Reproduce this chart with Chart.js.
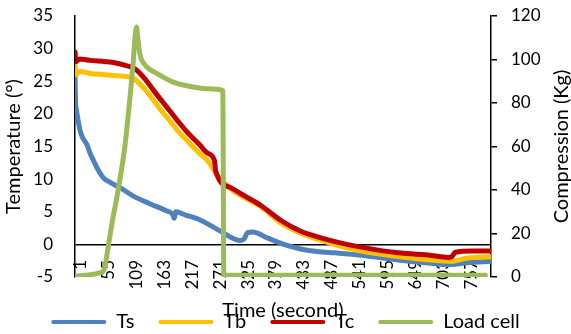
<!DOCTYPE html>
<html><head><meta charset="utf-8">
<script src="https://cdn.jsdelivr.net/npm/chart.js@4.4.1/dist/chart.umd.min.js"></script>
<style>html,body{margin:0;padding:0;background:#fff}canvas{display:block}</style>
</head><body>
<canvas id="c" width="571" height="334" style="width:571px;height:334px"></canvas>
<script>
// ---- data ----
const xTickLabels = [1,55,109,163,217,271,325,379,433,487,541,595,649,703,757];
const xMin = 1, xMax = 806;

const tsTime  = [1,2,4,7,11,16,24,30,37,45,56,69,88,114,147,179,190,193,196,215,244,283,321,328,335,345,373,405,438,470,505,560,626,690,729,760,806];
const tsValues= [26,22,20.5,19,17.4,16.3,15.3,14,12.8,11.5,10.2,9.5,8.7,7.4,6.2,5.1,4.6,4.0,5.0,4.5,3.7,2.0,0.6,0.8,1.8,1.9,1.0,0.0,-0.7,-1.1,-1.3,-1.7,-2.4,-2.9,-3.1,-2.8,-2.6];

const tbTime  = [1,3,10,30,60,90,114,121,135,153,170,185,200,218,244,257,273,302,360,399,438,477,516,560,626,690,729,760,806];
const tbValues= [27.5,26.0,26.5,26.2,26.0,25.8,25.5,25.0,23.9,22.1,20.3,18.9,17.4,15.9,13.8,12.9,11.0,8.5,5.8,3.3,1.7,0.6,-0.3,-1.1,-1.85,-2.4,-2.6,-2.1,-1.9];

const tcTime  = [1,3,10,30,60,80,100,115,127,140,153,170,185,200,218,244,257,271,273,302,330,360,399,438,477,516,560,626,690,723,730,737,770,806];
const tcValues= [29.5,28.0,28.4,28.2,28.0,27.8,27.4,27.0,26.2,25.0,23.6,21.9,20.4,18.9,17.2,15.1,14.0,12.8,11.3,8.7,7.4,6.0,3.7,2.0,1.0,0.2,-0.5,-1.3,-1.7,-2.0,-1.9,-1.2,-1.0,-1.0];

const lcTime  = [1,30,50,55,58,62,66,70,75,80,88,98,108,114,117,120,122,125,128,135,140,160,191,224,260,287,289,795];
const lcValues= [0.5,1,2,2.5,4,9,15,21,28,34,45,61,84,100,110,115,111,105,101,98,96.5,93.5,89.6,87.6,86.5,85.7,0.8,0.8];

const seriesNames = ['Ts','Tb','Tc','Load cell'];
const seriesColors = ['#4F81BD','#FFC000','#C00000','#9BBB59'];
const xTitle = 'Time (second)';
const yLeftTitle = 'Temperature (°)';
const yRightTitle = 'Compression (Kg)';

const pts = (t, v) => t.map((x, i) => ({x, y: v[i]}));

const extraTitles = {
  id: 'extraTitles',
  afterDraw(chart) {
    const {ctx, chartArea} = chart;
    ctx.save();
    ctx.fillStyle = '#000';
    ctx.font = '20px Lato';
    ctx.textAlign = 'center';
    ctx.textBaseline = 'middle';
    ctx.fillText(xTitle, (chartArea.left + chartArea.right) / 2, chartArea.bottom + 34);
    ctx.translate(chartArea.right + 71, (chartArea.top + chartArea.bottom) / 2);
    ctx.rotate(-Math.PI / 2);
    ctx.fillText(yRightTitle, 0, 0);
    ctx.restore();
  }
};

function draw() {
  Chart.defaults.font.family = 'Lato';
  Chart.defaults.font.size = 17;
  Chart.defaults.color = '#000';
  const mk = (i, t, v, axis, order) => ({
    label: seriesNames[i], data: pts(t, v), yAxisID: axis, order,
    borderColor: seriesColors[i], backgroundColor: seriesColors[i],
    borderWidth: 5, pointRadius: 0, cubicInterpolationMode: 'monotone',
    borderCapStyle: 'round', borderJoinStyle: 'round'
  });
  new Chart(document.getElementById('c'), {
    type: 'line',
    data: { datasets: [
      mk(0, tsTime, tsValues, 'y', 4),
      mk(1, tbTime, tbValues, 'y', 3),
      mk(2, tcTime, tcValues, 'y', 2),
      mk(3, lcTime, lcValues, 'y1', 1)
    ]},
    options: {
      responsive: false, animation: false,
      layout: { padding: { top: 16, left: 0, right: 0, bottom: -8 } },
      plugins: {
        tooltip: { enabled: false },
        legend: {
          position: 'bottom',
          labels: {
            boxWidth: 55, boxHeight: 4, padding: 24, color: '#000',
            useBorderRadius: true, borderRadius: 2,
            font: { size: 20 },
            sort: (a, b) => a.datasetIndex - b.datasetIndex,
            generateLabels: (chart) => Chart.defaults.plugins.legend.labels.generateLabels(chart)
              .map(l => ({...l, lineWidth: 0, fillStyle: l.strokeStyle}))
          }
        }
      },
      scales: {
        x: {
          type: 'linear', min: xMin, max: xMax,
          afterBuildTicks: (s) => { s.ticks = xTickLabels.map(v => ({value: v})); },
          afterFit: (s) => { s.height = 11; },
          ticks: { autoSkip: false, minRotation: 90, maxRotation: 90, mirror: true, padding: 17, labelOffset: 26,
                   color: '#000', callback: (v) => String(v) },
          grid: { display: false, drawTicks: false },
          border: { display: false }
        },
        y: {
          position: 'left', min: -5, max: 35,
          afterFit: (s) => { s.width = 75; },
          ticks: { stepSize: 5, padding: 2, color: '#000' },
          grid: { drawTicks: true, tickLength: 20, tickColor: 'rgba(0,0,0,0)', lineWidth: 1.5,
                  color: (c) => (c.tick && c.tick.value === 0) ? '#000' : 'rgba(0,0,0,0)' },
          border: { display: true, color: '#000', width: 1.5 },
          title: { display: true, text: yLeftTitle, color: '#000', font: { size: 20 }, padding: { top: 2, bottom: 0 } }
        },
        y1: {
          position: 'right', min: 0, max: 120,
          afterFit: (s) => { s.width = 80; },
          ticks: { stepSize: 20, padding: 14, color: '#000', font: { size: 17, lineHeight: 0.2 } },
          grid: { drawOnChartArea: false, drawTicks: true, tickLength: 6, color: '#000', lineWidth: 1.5 },
          border: { display: true, color: '#000', width: 1.5 }
        }
      }
    },
    plugins: [extraTitles]
  });
}
if (document.fonts && document.fonts.load) {
  document.fonts.load('17px Lato').then(draw, draw);
} else { draw(); }
</script>
</body></html>
